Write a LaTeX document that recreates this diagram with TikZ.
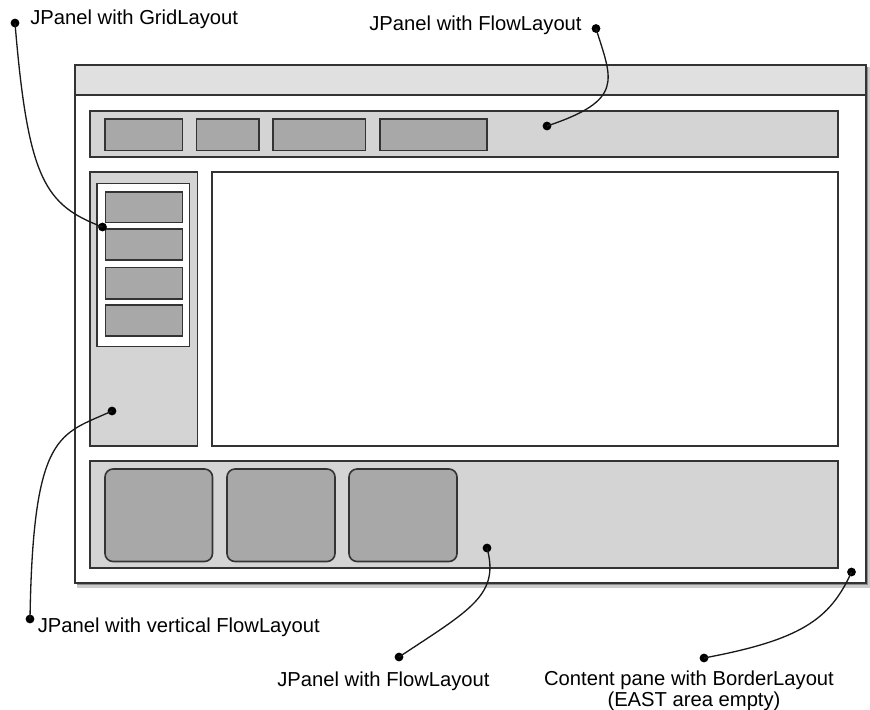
\documentclass[tikz,border=0pt]{standalone}
\usepackage{fontspec}
\setmainfont{Liberation Sans}
\begin{document}
\begin{tikzpicture}[x=0.02cm,y=-0.02cm,
  panelborder/.style={draw=black!80,line width=0.9pt},
  titlebar/.style={panelborder,fill=black!12},
  panel/.style={panelborder,fill=black!17},
  plain/.style={panelborder,fill=white},
  btn/.style={panelborder,fill=black!34},
  rbtn/.style={panelborder,fill=black!34,rounded corners=0.16cm},
  dot/.style={circle,fill=black,inner sep=0pt,minimum size=5pt},
  lbl/.style={font=\fontsize{11.5}{14}\selectfont,inner sep=0pt},
  conn/.style={draw=black!90,line width=0.75pt}]
\useasboundingbox (0,0) rectangle (870,710);
% frame with shadow
\fill[black!35] (78,68) rectangle (868.5,586);
\fill[black!20] (77,67) rectangle (869.5,587.5);
\fill[black!45] (77,67) rectangle (867.5,585);
\draw[plain] (75,65) rectangle (866,583);
\draw[titlebar] (75,65) rectangle (866,95);
% north panel
\draw[panel] (90,111) rectangle (838,157);
\draw[btn] (105,119) rectangle (182.5,150.5);
\draw[btn] (196.5,119) rectangle (259,150.5);
\draw[btn] (273,119) rectangle (365.5,150.5);
\draw[btn] (380,119) rectangle (487,150.5);
% west panel
\draw[panel] (90,172) rectangle (197.5,446);
\draw[plain] (97,183.5) rectangle (189.5,346.5);
\draw[btn] (105.5,192) rectangle (182.5,222.5);
\draw[btn] (105.5,229) rectangle (182.5,260);
\draw[btn] (105.5,267.5) rectangle (182.5,299);
\draw[btn] (105.5,305) rectangle (182.5,336);
% center panel
\draw[plain] (212,172) rectangle (838,446);
% south panel
\draw[panel] (90,461) rectangle (838,568);
\draw[rbtn] (105,469) rectangle (212.5,561.5);
\draw[rbtn] (227,469) rectangle (335,561.5);
\draw[rbtn] (349,469) rectangle (457,561.5);
% labels
\node[lbl,anchor=base west] (lgrid) at (30,25) {JPanel with GridLayout};
\node[lbl,anchor=base east] (lflowtop) at (582,31) {JPanel with FlowLayout};
\node[lbl,anchor=base west] (lvert) at (37.5,632.5) {JPanel with vertical FlowLayout};
\node[lbl,anchor=base west] (lflowbot) at (277,686.5) {JPanel with FlowLayout};
\node[lbl,anchor=base,align=center] (lcontent) at (689,685) {Content pane with BorderLayout};
\node[lbl,anchor=base] (lcontent2) at (694,706) {(EAST area empty)};
% dots
\node[dot] (dgrid) at (15,23) {};
\node[dot] (tgrid) at (102.5,227) {};
\node[dot] (dflowtop) at (596,28.5) {};
\node[dot] (tflowtop) at (547,126) {};
\node[dot] (dvert) at (30,619) {};
\node[dot] (tvert) at (112,411) {};
\node[dot] (dflowbot) at (399,657) {};
\node[dot] (tflowbot) at (487,548) {};
\node[dot] (dcontent) at (704,658) {};
\node[dot] (tcontent) at (851.5,572) {};
% connectors
\draw[conn] (dgrid.center) .. controls (28,180) and (45,205) .. (tgrid.center);
\draw[conn] (dflowtop.center) .. controls (612,80) and (625,100) .. (tflowtop.center);
\draw[conn] (dvert.center) .. controls (33,430) and (60,435) .. (tvert.center);
\draw[conn] (tflowbot.center) .. controls (500,595) and (470,610) .. (dflowbot.center);
\draw[conn] (tcontent.center) .. controls (830,620) and (800,640) .. (dcontent.center);
\end{tikzpicture}
\end{document}
